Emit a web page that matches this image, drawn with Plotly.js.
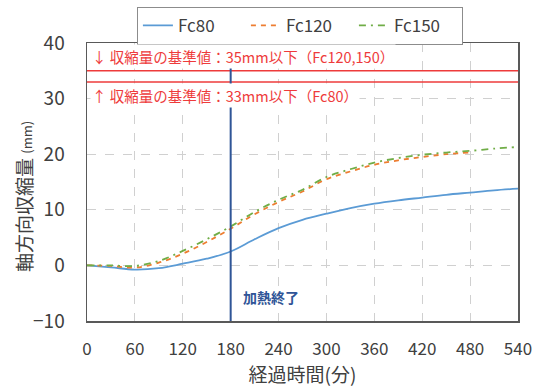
<!DOCTYPE html>
<html><head><meta charset="utf-8">
<script src="https://cdn.plot.ly/plotly-3.0.1.min.js"></script>
<style>html,body{margin:0;padding:0;background:#fff}#c{width:542px;height:387px}</style>
</head><body><div id="c"></div>
<script>
const time = [0,30,60,90,120,150,180,210,240,270,300,330,360,390,420,450,480,510,540];
const fc80 = [0,-0.35,-0.75,-0.5,0.3,1.2,2.5,4.7,6.7,8.2,9.3,10.3,11.1,11.7,12.2,12.7,13.1,13.5,13.8];
const time120 = [0,30,60,90,120,150,180,210,240,270,300,330,360,390,420,450,480];
const fc120 = [0,-0.1,-0.4,0.5,2.1,4.2,6.6,9.2,11.4,13.3,15.5,16.9,18.1,18.9,19.5,20.0,20.3];
const fc150 = [0,0,-0.1,0.8,2.6,4.7,7.0,9.6,11.8,13.6,15.9,17.3,18.5,19.3,19.9,20.3,20.6,21.0,21.3];
const seriesNames = ['Fc80','Fc120','Fc150'];
const limit120 = 35, limit80 = 33, heatEnd = 180;
const xTicks = [0,60,120,180,240,300,360,420,480,540];
const yTicks = [-10,0,10,20,30,40];

const F = '"Noto Sans CJK JP", "Noto Sans", sans-serif';
const red = '#EE3B3B';
const traces = [
  {x: time, y: fc80, name: seriesNames[0], mode: 'lines', line: {color: '#5B9BD5', width: 1.8, shape: 'spline'}},
  {x: time120, y: fc120, name: seriesNames[1], mode: 'lines', line: {color: '#ED7D31', width: 1.8, dash: '5px,5px', shape: 'spline'}},
  {x: time, y: fc150, name: seriesNames[2], mode: 'lines', line: {color: '#70AD47', width: 1.8, dash: '7px,5px,2px,5px', shape: 'spline'}}
];
const layout = {
  width: 542, height: 387,
  margin: {l: 87, r: 24, t: 43, b: 66, autoexpand: false},
  paper_bgcolor: '#fff', plot_bgcolor: '#fff',
  font: {family: F, color: '#404040', size: 15},
  showlegend: true,
  legend: {orientation: 'h', x: 0.494, xanchor: 'center', y: 1.13, yanchor: 'top',
    bordercolor: '#8C8C8C', borderwidth: 1, font: {size: 17, color: '#404040'},
    itemwidth: 30, tracegroupgap: 0, entrywidth: 63, entrywidthmode: 'pixels'},
  xaxis: {range: [0, 540], tickvals: xTicks, ticks: '', showgrid: true, gridcolor: '#D0D0D0', griddash: 'dash',
    zeroline: false, showline: true, linecolor: '#595959', linewidth: 1.5, mirror: true,
    tickfont: {size: 17, color: '#404040'}, ticklabelstandoff: 12,
    title: {text: '経過時間(分)', font: {size: 19, color: '#404040'}, standoff: 4}},
  yaxis: {range: [-10, 40], tickvals: yTicks, ticks: '', showgrid: true, gridcolor: '#D0D0D0', griddash: 'dash',
    zeroline: false, showline: true, linecolor: '#595959', linewidth: 1.5, mirror: true,
    tickfont: {size: 19, color: '#404040'}, ticklabelstandoff: 17},
  shapes: [
    {type: 'line', xref: 'paper', x0: 0, x1: 1, yref: 'y', y0: limit120, y1: limit120, line: {color: red, width: 1.5}},
    {type: 'line', xref: 'paper', x0: 0, x1: 1, yref: 'y', y0: limit80, y1: limit80, line: {color: red, width: 1.5}},
    {type: 'line', xref: 'x', x0: heatEnd, x1: heatEnd, yref: 'paper', y0: 0, y1: 1, line: {color: '#2F5597', width: 2}}
  ],
  annotations: [
    {xref: 'paper', yref: 'paper', x: 0, y: 0.446, xshift: -64, xanchor: 'center', yanchor: 'middle', showarrow: false,
     textangle: -90, text: '軸方向収縮量 <span style="font-size:13px">(mm)</span>', font: {size: 19, color: '#404040'}},
    {xref: 'paper', yref: 'y', x: 0.008, y: 37.6, xanchor: 'left', yanchor: 'middle', showarrow: false,
     text: '↓ 収縮量の基準値：35mm以下（Fc120,150）', font: {size: 14.5, color: red}, bgcolor: '#fff'},
    {xref: 'paper', yref: 'y', x: 0.008, y: 30.6, xanchor: 'left', yanchor: 'middle', showarrow: false,
     text: '↑ 収縮量の基準値：33mm以下（Fc80）', font: {size: 14.5, color: red}, bgcolor: '#fff'},
    {xref: 'x', yref: 'y', x: 230, y: -5.6, xanchor: 'center', yanchor: 'middle', showarrow: false,
     text: '<b>加熱終了</b>', font: {size: 14, color: '#2F5597'}}
  ]
};
Plotly.newPlot('c', traces, layout, {displayModeBar: false, staticPlot: true});
</script></body></html>
